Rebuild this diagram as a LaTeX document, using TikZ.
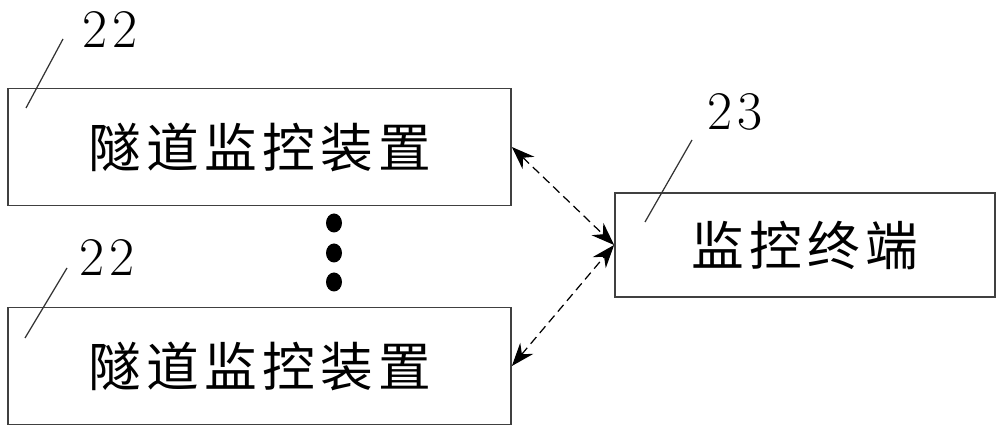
\documentclass[tikz,border=0pt]{standalone}
\usepackage{fontspec}
\newfontfamily\cjk{Noto Sans CJK SC}[LetterSpace=10]
\usepackage{tikz}
\usetikzlibrary{shapes.geometric, arrows.meta}

\tikzset{
  devbox/.style={draw=black!75, line width=1pt, minimum width=10.06cm,
    minimum height=2.34cm, inner sep=0pt, font=\cjk\fontsize{30}{30}\selectfont},
  termbox/.style={devbox, minimum width=7.6cm, minimum height=2.08cm},
  refnum/.style={font=\rmfamily\fontsize{31}{31}\selectfont},
  leader/.style={black!80, line width=0.7pt},
  link/.style={line width=0.7pt, dash pattern=on 5pt off 3pt,
    {Stealth[length=0.46cm, width=0.34cm]}-{Stealth[length=0.46cm, width=0.34cm]}},
  dot/.style={ellipse, fill=black, minimum width=0.32cm, minimum height=0.38cm, inner sep=0pt}
}

\begin{document}
\begin{tikzpicture}
            \useasboundingbox (0,0) rectangle (20,8.6);
            % Draw the boxes
            \node[devbox] (dev1) at (5.19,5.66) {隧道监控装置};
            \node[devbox] (dev2) at (5.19,1.28) {隧道监控装置};
            \node[termbox] (term) at (16.1,3.7) {监控终端};
            
            % Draw the dots between the devices
            \node[dot] (d1) at (6.68,4.14) {};
            \node[dot] (d2) at (6.68,3.54) {};
            \node[dot] (d3) at (6.68,2.96) {};
            
            % Draw the links
            \draw[link] (dev1.east) -- (term.west);
            \draw[link] (dev2.east) -- (term.west);
            
            % Label the parts
            \node[refnum] (n1) at (2.2,8.02) {2\kern3pt 2};
            \node[refnum] (n2) at (2.14,3.46) {2\kern3pt 2};
            \node[refnum] (n3) at (14.7,6.36) {2\kern3pt 3};
            \coordinate (a1) at (1.26,7.82);
            \coordinate (b1) at (0.52,6.44);
            \coordinate (a2) at (1.34,3.24);
            \coordinate (b2) at (0.5,1.84);
            \coordinate (a3) at (13.84,5.8);
            \coordinate (b3) at (12.9,4.16);
            \draw[leader] (a1) -- (b1);
            \draw[leader] (a2) -- (b2);
            \draw[leader] (a3) -- (b3);
        \end{tikzpicture}
\end{document}
